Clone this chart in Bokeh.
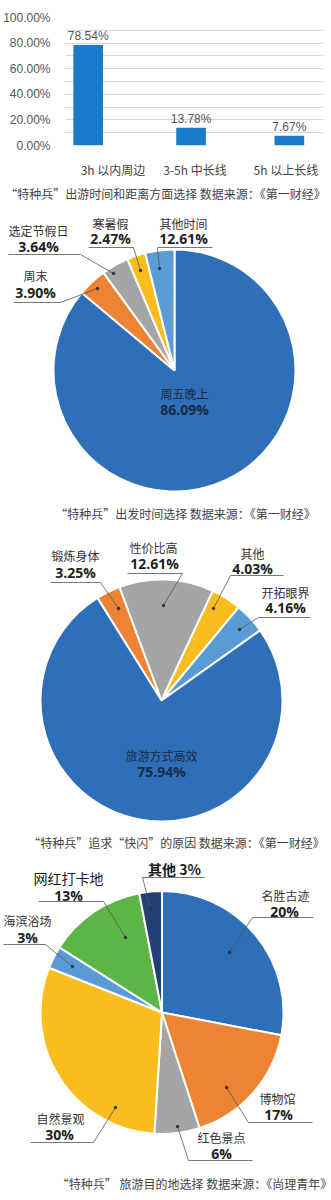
import numpy as np
from bokeh.plotting import figure
from bokeh.models import Range1d, SingleIntervalTicker, FixedTicker, PrintfTickFormatter, CustomJSTickFormatter
from bokeh.core.properties import value
from bokeh.embed import file_html
from bokeh.resources import INLINE

# ---------------- data ----------------
bar_categories = ["3h 以内周边", "3-5h 中长线", "5h 以上长线"]
bar_values = [78.54, 13.78, 7.67]
bar_caption = "“特种兵”出游时间和距离方面选择 数据来源：《第一财经》"

depart_labels = ["周五晚上", "周末", "选定节假日", "寒暑假", "其他时间"]
depart_values = [86.09, 3.90, 3.64, 2.47, 3.89]          # drawn share of the pie
depart_text = ["86.09%", "3.90%", "3.64%", "2.47%", "12.61%"]  # printed labels
depart_caption = "“特种兵”出发时间选择 数据来源：《第一财经》"

reason_labels = ["锻炼身体", "性价比高", "其他", "开拓眼界", "旅游方式高效"]
reason_values = [3.25, 12.61, 4.03, 4.16, 75.94]
reason_text = ["3.25%", "12.61%", "4.03%", "4.16%", "75.94%"]
reason_caption = "“特种兵”追求“快闪”的原因 数据来源：《第一财经》"

dest_labels = ["名胜古迹", "博物馆", "红色景点", "自然景观", "海滨浴场", "网红打卡地", "其他"]
dest_values = [28, 17, 6, 30, 3, 13, 3]                    # drawn share of the pie
dest_text = ["20%", "17%", "6%", "30%", "3%", "13%", "3%"]   # printed labels
dest_caption = "“特种兵” 旅游目的地选择 数据来源：《尚理青年》"

# ---------------- styles ----------------
CJK = "Noto Sans CJK SC"
NUM = "Open Sans"
BLUE = "#2e6fb7"
ORANGE = "#ee8433"
GRAY = "#a5a5a5"
YELLOW = "#f9bd1d"
LBLUE = "#5b9bd5"
GREEN = "#5eb547"
NAVY = "#233f73"

# ---------------- bar chart ----------------
p1 = figure(width=331, height=180, x_range=Range1d(0, 3), y_range=Range1d(0, 100),
            output_backend="svg", toolbar_location=None,
            min_border_left=62, min_border_right=8, min_border_top=17, min_border_bottom=30)
p1.outline_line_color = None

bar_pos = [0.264, 1.46, 2.603]
label_pos = [0.552, 1.506, 2.563]
p1.vbar(x=bar_pos, top=bar_values, width=0.345, bottom=0, fill_color="#1b7bcb", line_color=None)
p1.text(x=bar_pos, y=bar_values, text=[f"{v:.2f}%" for v in bar_values],
        text_align="center", text_baseline="bottom", y_offset=-2,
        text_font=value("Liberation Sans"), text_font_size="12px", text_color="#555555")

p1.yaxis.ticker = SingleIntervalTicker(interval=20, num_minor_ticks=2)
p1.yaxis.formatter = PrintfTickFormatter(format="%.2f%%")
p1.yaxis.axis_line_color = None
p1.yaxis.major_tick_line_color = None
p1.yaxis.minor_tick_line_color = None
p1.yaxis.major_label_standoff = 9
p1.yaxis.major_label_text_font = "Liberation Sans"
p1.yaxis.major_label_text_font_size = "12px"
p1.yaxis.major_label_text_color = "#555555"
p1.ygrid.grid_line_color = "#d6d6d6"
p1.ygrid.minor_grid_line_color = "#d6d6d6"
p1.xgrid.grid_line_color = None

p1.xaxis.ticker = FixedTicker(ticks=label_pos)
p1.xaxis.formatter = CustomJSTickFormatter(args=dict(labels=bar_categories),
                                           code="return labels[index];")
p1.xaxis.axis_line_color = None
p1.xaxis.major_tick_line_color = None
p1.xaxis.minor_tick_line_color = None
p1.xaxis.major_label_standoff = 9
p1.xaxis.major_label_text_font = CJK
p1.xaxis.major_label_text_font_size = "12px"
p1.xaxis.major_label_text_color = "#444444"

# ---------------- pies ----------------
p2 = figure(width=331, height=1020, x_range=Range1d(0, 331), y_range=Range1d(0, 1020),
            output_backend="svg", toolbar_location=None, min_border=0)
p2.axis.visible = False
p2.grid.visible = False
p2.outline_line_color = None


def Y(py):
    return 1200 - py


def pie(cx, cy, r, values, colors, start_deg=0.0):
    total = float(sum(values))
    cum = start_deg
    s, e = [], []
    for v in values:
        a = v / total * 360.0
        s.append(np.radians(90 - cum))
        e.append(np.radians(90 - cum - a))
        cum += a
    p2.wedge(x=cx, y=Y(cy), radius=r, start_angle=s, end_angle=e, direction="clock",
             fill_color=colors, line_color="white", line_width=2)


def txt(xs, ys, texts, font, size, color="#333333", bold=False):
    p2.text(x=xs, y=[Y(v) for v in ys], text=texts, text_align="center", text_baseline="middle",
            text_font=value(font), text_font_size=size, text_color=color,
            text_font_style="bold" if bold else "normal")


# captions
txt([165], [193], [bar_caption], CJK, "12px", "#444444")
txt([185], [513], [depart_caption], CJK, "12px", "#444444")
txt([176], [842], [reason_caption], CJK, "12px", "#444444")
txt([194], [1183], [dest_caption], CJK, "12px", "#444444")

paths = []

# pie 2 : departure time
pie(174, 370, 121, depart_values, [BLUE, ORANGE, GRAY, YELLOW, LBLUE])
name_pos = {"周五晚上": (184, 393), "周末": (35, 275), "选定节假日": (38, 230),
            "寒暑假": (110, 223), "其他时间": (183, 223)}
pct_pos = {"周五晚上": (184, 409), "周末": (35, 292), "选定节假日": (38, 246),
           "寒暑假": (110, 238), "其他时间": (183, 238)}
for lab, t in zip(depart_labels, depart_text):
    inside = lab == "周五晚上"
    txt([name_pos[lab][0]], [name_pos[lab][1]], [lab], CJK, "12px", "#1b2b45" if inside else "#333333")
    txt([pct_pos[lab][0]], [pct_pos[lab][1]], [t], NUM, "14px", "#1b2b45" if inside else "#222222", bold=True)
paths += [[(13, 302), (60, 302), (97, 288)],
          [(8, 254), (80, 254), (113, 273)],
          [(88, 247), (133, 247), (140, 270)],
          [(212, 247), (157, 247), (159, 268)]]

# pie 3 : reasons
pie(161, 700, 121, reason_values, [ORANGE, GRAY, YELLOW, LBLUE, BLUE], start_deg=-32.0)
name_pos3 = {"锻炼身体": (75, 555), "性价比高": (153, 547), "其他": (252, 553),
             "开拓眼界": (285, 592), "旅游方式高效": (161, 755)}
pct_pos3 = {"锻炼身体": (75, 572), "性价比高": (154, 563), "其他": (252, 568),
            "开拓眼界": (285, 607), "旅游方式高效": (161, 771)}
for lab, t in zip(reason_labels, reason_text):
    inside = lab == "旅游方式高效"
    txt([name_pos3[lab][0]], [name_pos3[lab][1]], [lab], CJK, "12px", "#1b2b45" if inside else "#333333")
    txt([pct_pos3[lab][0]], [pct_pos3[lab][1]], [t], NUM, "14px", "#1b2b45" if inside else "#222222", bold=True)
paths += [[(50, 582), (100, 582), (118, 608)],
          [(127, 573), (182, 573), (163, 605)],
          [(283, 575), (230, 575), (213, 608)],
          [(310, 617), (258, 617), (239, 629)]]

# pie 4 : destinations
pie(161.5, 1012, 121.5, dest_values, [BLUE, ORANGE, GRAY, YELLOW, LBLUE, GREEN, NAVY])
name_pos4 = {"名胜古迹": (285, 895), "博物馆": (277, 1098), "红色景点": (221, 1137),
             "自然景观": (60, 1118), "海滨浴场": (27, 920), "网红打卡地": (68, 877)}
pct_pos4 = {"名胜古迹": (284, 911), "博物馆": (278, 1114), "红色景点": (221, 1153),
            "自然景观": (59, 1134), "海滨浴场": (27, 937), "网红打卡地": (68, 895)}
for lab, t in zip(dest_labels, dest_text):
    if lab == "其他":
        txt([174], [868], [f"{lab} {t}"], CJK, "14px", "#1a1a1a", bold=True)
        continue
    big = lab == "网红打卡地"
    txt([name_pos4[lab][0]], [name_pos4[lab][1]], [lab], CJK, "14px" if big else "12px",
        "#1a1a1a" if big else "#333333")
    txt([pct_pos4[lab][0]], [pct_pos4[lab][1]], [t], NUM, "14px", "#222222", bold=True)
paths += [[(204, 877), (142, 877), (150, 908)],
          [(38, 901), (103, 901), (125, 937)],
          [(3, 944), (45, 944), (72, 966)],
          [(313, 917), (252, 917), (229, 952)],
          [(312, 1122), (248, 1122), (226, 1087)],
          [(252, 1160), (188, 1160), (177, 1126)],
          [(30, 1142), (93, 1142), (115, 1107)]]

xs = [[pt[0] for pt in pth] for pth in paths]
ys = [[Y(pt[1]) for pt in pth] for pth in paths]
p2.multi_line(xs=xs, ys=ys, line_color="#555555", line_width=0.8)
p2.scatter(x=[pth[-1][0] for pth in paths], y=[Y(pth[-1][1]) for pth in paths], size=2.5, color="#333333")

open("out.html", "w").write(file_html([p1, p2], INLINE))
